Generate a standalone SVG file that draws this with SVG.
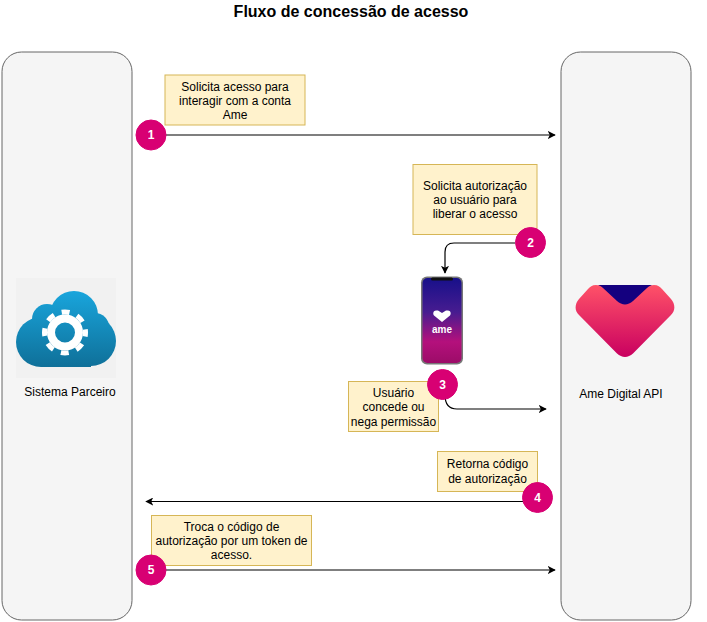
<svg xmlns="http://www.w3.org/2000/svg" width="707" height="622" viewBox="0 0 707 622">
<style>
text{font-family:"Liberation Sans",Arial,sans-serif;font-size:12px;fill:#000;text-anchor:middle}
.title{font-size:16px;font-weight:bold}
.panel{fill:#f5f5f5;stroke:#666;stroke-width:1}
.note{fill:#fff2cc;stroke:#d6b656;stroke-width:1}
.badge{fill:#d80073;stroke:#d80073}
.num{fill:#fff;font-weight:bold}
.conn{fill:none;stroke:#000;stroke-width:1.2;marker-end:url(#arrow)}
</style>
<defs>
<marker id="arrow" viewBox="0 0 10 10" refX="9" refY="5" markerWidth="8" markerHeight="8" markerUnits="userSpaceOnUse" orient="auto"><path d="M0 0L10 5L0 10L2.5 5Z" fill="#000"/></marker>
<linearGradient id="cloud" gradientUnits="userSpaceOnUse" x1="0" y1="291" x2="0" y2="367"><stop offset="0" stop-color="#19a5dc"/><stop offset="1" stop-color="#0f7099"/></linearGradient>
<linearGradient id="heart" x1="0" y1="0" x2="0" y2="1"><stop offset="0" stop-color="#ff5268"/><stop offset="1" stop-color="#c90060"/></linearGradient>
<linearGradient id="screen" x1="0" y1="0" x2="0" y2="1"><stop offset="0" stop-color="#17108a"/><stop offset="0.4" stop-color="#471c90"/><stop offset="0.75" stop-color="#b4107c"/><stop offset="1" stop-color="#9c0c68"/></linearGradient>
</defs>
<text class="title" x="351" y="17">Fluxo de concessão de acesso</text>
<g id="sistema-parceiro">
<rect class="panel" x="2" y="52" width="130" height="568" rx="19.500"/>
<rect x="16" y="278" width="100" height="100" fill="#f1f1f1"/>
<g fill="url(#cloud)">
<circle cx="74" cy="315" r="24"/>
<circle cx="47" cy="319" r="15"/>
<circle cx="41" cy="342" r="25"/>
<circle cx="91" cy="341" r="25"/>
<circle cx="95" cy="327" r="14"/>
<rect x="41" y="315" width="50" height="52"/>
</g>
<circle cx="65" cy="332.500" r="20.500" fill="none" stroke="#fff" stroke-width="5" stroke-dasharray="8.050 8.050" stroke-dashoffset="4.020"/>
<circle cx="65" cy="332.500" r="14" fill="none" stroke="#fff" stroke-width="8"/>
<text x="70" y="396">Sistema Parceiro</text>
</g>
<g id="ame-api">
<rect class="panel" x="561" y="52" width="130" height="568" rx="19.500"/>
<path d="M598 285H652L625 312Z" fill="#14007f"/>
<path d="M596 285C592 285 590 287 588 289L579 299C574.500 304 574.500 311 579 315L617 353.500C622 358 628 358 633 353.500L671 315C675.500 311 675.500 304 671 299L662 289C660 287 658 285 654 285C651 285 649 286 647 288L633 301C628 305.500 622 305.500 617 301L603 288C601 286 599 285 596 285Z" fill="url(#heart)"/>
<text x="621" y="398">Ame Digital API</text>
</g>
<g id="phone">
<rect x="421" y="276.500" width="42" height="88" rx="6" fill="#777"/>
<rect x="422.500" y="278" width="39" height="85" rx="5" fill="url(#screen)"/>
<rect x="431" y="277.500" width="22" height="3" rx="1.500" fill="#111"/>
<path d="M442 322L434 315.500C432.500 313.500 433.500 310.500 436 310.500H438L442 313L446 310.500H448C450.500 310.500 451.500 313.500 450 315.500Z" fill="#fff"/>
<text x="442" y="332.500" textLength="20" lengthAdjust="spacingAndGlyphs" style="font-size:11px;font-weight:bold;fill:#fff">ame</text>
</g>
<g id="connectors">
<path class="conn" d="M166 135H555"/>
<path class="conn" d="M515 243H454Q445 243 445 252V273"/>
<path class="conn" d="M445 395Q445 409 457 409H546"/>
<path class="conn" d="M523 501.500H146"/>
<path class="conn" d="M166 570H555"/>
</g>
<g id="note-1"><rect class="note" x="165" y="75" width="140" height="50"/><text x="235" y="91">Solicita acesso para</text><text x="235" y="104.500">interagir com a conta</text><text x="235" y="119">Ame</text></g>
<g id="note-2"><rect class="note" x="413" y="164.500" width="124" height="70"/><text x="475" y="190">Solicita autorização</text><text x="475" y="204">ao usuário para</text><text x="475" y="218">liberar o acesso</text></g>
<g id="note-3"><rect class="note" x="348.500" y="381.500" width="90" height="50"/><text x="393.500" y="397">Usuário</text><text x="393.500" y="411">concede ou</text><text x="393.500" y="426">nega permissão</text></g>
<g id="note-4"><rect class="note" x="437.500" y="451.500" width="100" height="40"/><text x="487.500" y="468">Retorna código</text><text x="487.500" y="483">de autorização</text></g>
<g id="note-5"><rect class="note" x="151.500" y="515.500" width="160" height="50"/><text x="231.500" y="531">Troca o código de</text><text x="231.500" y="545">autorização por um token de</text><text x="231.500" y="559">acesso.</text></g>
<g id="badge-1"><circle class="badge" cx="151" cy="135" r="15"/><text class="num" x="151" y="139">1</text></g>
<g id="badge-2"><circle class="badge" cx="530.500" cy="242.500" r="15"/><text class="num" x="530.500" y="246.500">2</text></g>
<g id="badge-3"><circle class="badge" cx="442.500" cy="384.500" r="15"/><text class="num" x="442.500" y="388.500">3</text></g>
<g id="badge-4"><circle class="badge" cx="537.500" cy="497.500" r="15"/><text class="num" x="537.500" y="501.500">4</text></g>
<g id="badge-5"><circle class="badge" cx="151" cy="570" r="15"/><text class="num" x="151" y="574">5</text></g>
</svg>
